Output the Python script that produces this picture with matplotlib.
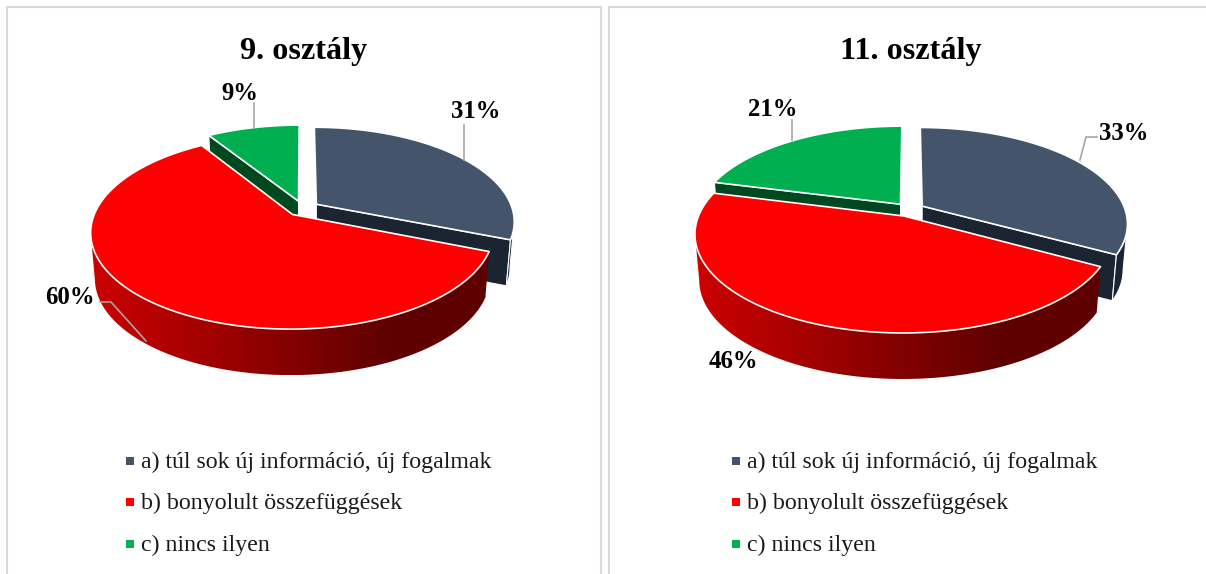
import numpy as np
import matplotlib
matplotlib.use('Agg')
import matplotlib.pyplot as plt
from matplotlib.colors import LinearSegmentedColormap
from matplotlib.patches import Polygon

############################## Data ############################################
categories = ['a) túl sok új információ, új fogalmak',
              'b) bonyolult összefüggések',
              'c) nincs ilyen']
titles = ['9. osztály', '11. osztály']
values_9 = [31, 60, 9]
values_11 = [33, 46, 21]

############################## Style ###########################################
plt.rcParams['font.family'] = ['Liberation Serif', 'DejaVu Serif']
top_colors = ['#44546a', '#ff0000', '#00b050']
wall_colors = ['#1b2431', '#8c0000', '#00481f']
frame_color = '#d9d9d9'
leader_color = '#a6a6a6'
red_wall = LinearSegmentedColormap.from_list('red_wall', ['#cc0000', '#5f0000'])
depth = 46
wall_scale = 0.98
persp = 0.177


def project(u, v, cx, cy, rx, ky):
    # unit disk to picture, far side of the pie comes out smaller
    w = 1 + persp * v
    return cx + rx * u / w, cy - ky * v / w


def slice_top(start, stop, explode, geom):
    # outline of one slice, angles in degrees clockwise from 12 o'clock
    mid = np.radians((start + stop) / 2)
    ox, oy = explode * np.sin(mid), explode * np.cos(mid)
    t = np.radians(np.linspace(start, stop, 120))
    xs, ys = project(ox + np.sin(t), oy + np.cos(t), *geom)
    ax0, ay0 = project(ox, oy, *geom)
    return (ax0, ay0), xs, ys


def drop(x, y, cx):
    return cx + (x - cx) * wall_scale, y + depth


def draw_pie(ax, values, explode, geom):
    cx = geom[0]
    total = sum(values)
    edges = np.cumsum([0] + values) / total * 360
    shapes = [slice_top(edges[i], edges[i + 1], explode, geom)
              for i in range(len(values))]
    # back slices first, the big red one lies over their walls
    for i in [0, 2, 1]:
        apex, xs, ys = shapes[i]
        bx, by = drop(xs, ys, cx)
        if i != 1:
            # radial wall on the end which faces the viewer
            k = -1 if i == 0 else 0
            abx, aby = drop(apex[0], apex[1], cx)
            ax.add_patch(Polygon([apex, (xs[k], ys[k]), (bx[k], by[k]), (abx, aby)],
                                 fc=wall_colors[i], ec='white', lw=0.8, zorder=2 + i))
        if i == 0:
            # bit of outer wall right of the blue slice
            j = np.argmax(xs)
            wx = np.r_[xs[j:], bx[j:][::-1]]
            wy = np.r_[ys[j:], by[j:][::-1]]
            ax.add_patch(Polygon(np.column_stack([wx, wy]), fc=wall_colors[0],
                                 ec='white', lw=0.8, zorder=2))
        if i == 1:
            # only the part in front of the widest point shows
            j = np.argmin(xs)
            wx = np.r_[xs[:j + 1], bx[:j + 1][::-1]]
            wy = np.r_[ys[:j + 1], by[:j + 1][::-1]]
            poly = Polygon(np.column_stack([wx, wy]), fc='none', ec='none', zorder=5)
            ax.add_patch(poly)
            # right quarter of the wall stays at the darkest red
            shade = np.clip(np.linspace(0, 1.33, 256), 0, 1).reshape(1, -1)
            im = ax.imshow(shade, cmap=red_wall, vmin=0, vmax=1, aspect='auto',
                           extent=[wx.min(), wx.max(), wy.max(), wy.min()], zorder=5)
            im.set_clip_path(poly)
        outline = np.column_stack([np.r_[apex[0], xs], np.r_[apex[1], ys]])
        z = 6 if i == 1 else 3 + i
        ax.add_patch(Polygon(outline, fc=top_colors[i], ec='white', lw=1.2,
                             joinstyle='round', zorder=z))


def draw_labels(ax, values, label_pos, leaders):
    for v, pos in zip(values, label_pos):
        ax.text(pos[0], pos[1], f'{v}%', fontsize=17.8, fontweight='bold',
                ha='center', va='center', color='black', zorder=10)
    for line in leaders:
        xs, ys = zip(*line)
        ax.plot(xs, ys, color=leader_color, lw=1.2, zorder=9)


def draw_legend(ax, x_marker, x_text, rows_y):
    for name, color, y in zip(categories, top_colors, rows_y):
        ax.plot([x_marker], [y], marker='s', ms=5.2, mew=0, color=color)
        ax.text(x_text, y + 1.5, name, fontsize=17.2, ha='left', va='center',
                color='#1a1a1a')


############################## Plot ############################################
fig = plt.figure(figsize=(12.06, 5.74), dpi=100)
ax = fig.add_axes([0, 0, 1, 1])
ax.axis('off')

# panel frames
ax.plot([7, 7, 601, 601], [574, 7, 7, 574], color=frame_color, lw=1.5)
ax.plot([609, 609, 1206], [574, 7, 7], color=frame_color, lw=1.5)

ax.text(304, 51, titles[0], fontsize=23.2, fontweight='bold', ha='center', va='center')
ax.text(911, 51, titles[1], fontsize=23.2, fontweight='bold', ha='center', va='center')

draw_pie(ax, values_9, 0.083, (303, 208.5, 196, 92))
draw_pie(ax, values_11, 0.073, (909.5, 209.6, 203, 93.7))

draw_labels(ax, values_9, [(476, 112), (70, 297), (240, 93)],
            [[(464, 160), (464, 125)],
             [(146, 341), (111, 302), (100, 302)],
             [(254, 127), (254, 103)]])
draw_labels(ax, values_11, [(1124, 133), (733, 362), (773, 109)],
            [[(1080, 160), (1086, 137), (1097, 137)],
             [(792, 140), (792, 120)]])

draw_legend(ax, 129.5, 141, [461, 502, 544])
draw_legend(ax, 735.5, 747, [461, 502, 544])

ax.set_xlim(0, 1206)
ax.set_ylim(574, 0)
fig.savefig('out.png', dpi=100)
